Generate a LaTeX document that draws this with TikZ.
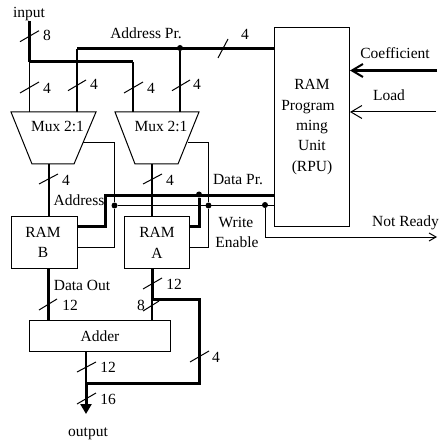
\documentclass[tikz,border=0pt]{standalone}
\usepackage{fontspec}
\setmainfont{Liberation Serif}
\usetikzlibrary{arrows.meta}
\tikzset{
  boxnode/.style={draw=black,line width=1pt,inner sep=0pt,align=center},
  muxshape/.style={draw=black,line width=1pt,line join=miter},
  txt/.style={inner sep=0pt,align=center,text height=13pt,text depth=3pt},
  bus/.style={line width=3pt,line join=miter},
  mid/.style={line width=1.5pt},
  thin wire/.style={line width=1pt},
  slash/.style={line width=1pt},
  junction/.style={circle,fill=black,inner sep=0pt,minimum size=6pt},
  openhead/.style={-{Straight Barb[length=11pt,width=13pt,line width=#1]}},
  every node/.append style={font=\fontsize{15.5}{18}\selectfont}
}
\begin{document}
\begin{tikzpicture}[x=1pt,y=-1pt]
\useasboundingbox (0,0) rectangle (440,443);
% blocks
\draw[muxshape] (11,112) -- (96,112) -- (74,164) -- (32,164) -- cycle;
\draw[muxshape] (115,112) -- (199,112) -- (178,164) -- (135,164) -- cycle;
\node[boxnode,minimum width=66pt,minimum height=52pt] (ramB) at (44,242) {};
\node[boxnode,minimum width=65pt,minimum height=52pt] (ramA) at (156.5,242) {};
\node[boxnode,minimum width=141pt,minimum height=31pt] (adder) at (100,336) {};
\node[boxnode,minimum width=75pt,minimum height=198pt] (rpu) at (311.5,127) {};
% free ends and bends
\coordinate (inTop) at (29.5,21);
\coordinate (inSplit) at (29.5,62);
\coordinate (inBend) at (133,62);
\coordinate (muxLa) at (29.5,112);
\coordinate (muxLb) at (77,112);
\coordinate (muxRa) at (133,112);
\coordinate (muxRb) at (180,112);
\coordinate (addrBend) at (77,49);
\coordinate (addrEnd) at (274,49);
\coordinate (muxLout) at (49,164);
\coordinate (muxRout) at (152,164);
\coordinate (ramBin) at (49,216);
\coordinate (ramAin) at (152,216);
\coordinate (dataStart) at (105,195.5);
\coordinate (dataEnd) at (274,195.5);
\coordinate (ramBd) at (77,226.5);
\coordinate (ramAd) at (189,226.5);
\coordinate (ramBw) at (77,247);
\coordinate (ramAw) at (189,247);
\coordinate (muxLs) at (83,143);
\coordinate (muxRs) at (188,143);
\coordinate (weEnd) at (274,205.5);
\coordinate (coefIn) at (437,70.5);
\coordinate (coefTip) at (350,70.5);
\coordinate (loadIn) at (436,112);
\coordinate (loadTip) at (350,112);
\coordinate (nrEnd) at (437,237);
\coordinate (ramBo) at (48.5,268);
\coordinate (addB) at (48.5,320.5);
\coordinate (ramAo) at (152,268);
\coordinate (fbTop) at (152,299);
\coordinate (addA) at (152,320.5);
\coordinate (addO) at (86,351);
\coordinate (sumPt) at (86,383);
\coordinate (outTip) at (86,414);
% junctions
\node[junction] (jAddr) at (180,48) {};
\node[junction] (jDataA) at (199,194.5) {};
\node[junction] (jWeB) at (114.5,205.5) {};
\node[junction] (jWeA) at (208.5,205.5) {};
\node[junction] (jNr) at (265,205) {};
% wires
\draw[bus] (inTop) -- (inSplit);
\draw[bus] (inSplit) -- (inBend);
\draw[mid] (inSplit) -- (muxLa);
\draw[mid] (inBend) -- (muxRa);
\draw[bus] (addrEnd) -- (addrBend);
\draw[mid] (addrBend) -- (muxLb);
\draw[mid] (jAddr) -- (muxRb);
\draw[mid] (muxLout) -- (ramBin);
\draw[mid] (muxRout) -- (ramAin);
\draw[bus] (dataEnd) -- (dataStart) |- (ramBd);
\draw[bus] (jDataA) |- (ramAd);
\draw[thin wire] (jWeB) -- (weEnd);
\draw[thin wire] (muxLs) -| (jWeB) |- (ramBw);
\draw[thin wire] (muxRs) -| (jWeA) |- (ramAw);
\draw[thin wire,-{Straight Barb[length=7pt,width=8pt]}] (jNr) |- (nrEnd);
\draw[bus,openhead=2pt] (coefIn) -- (coefTip);
\draw[thin wire,openhead=1pt] (loadIn) -- (loadTip);
\draw[bus] (ramBo) -- (addB);
\draw[bus] (ramAo) -- (fbTop);
\draw[mid] (fbTop) -- (addA);
\draw[bus] (fbTop) -| (199,383) -- (sumPt);
\draw[mid] (addO) -- (sumPt);
\draw[bus,-{Triangle[length=10pt,width=11pt]}] (sumPt) -- (outTip);
% bus width slashes
\draw[slash] (20,41.7) -- (39,30.7);
\draw[slash] (20,93) -- (39,82);
\draw[slash] (68,90.7) -- (86,80);
\draw[slash] (124,93) -- (143,82);
\draw[slash] (172,90.7) -- (190,80);
\draw[slash] (218,58) -- (228,39);
\draw[slash] (39,184) -- (58,174);
\draw[slash] (143,184) -- (162,174);
\draw[slash] (39,310) -- (57,299);
\draw[slash] (143,289) -- (162,278);
\draw[slash] (143,311) -- (159,301);
\draw[slash] (190,362) -- (209,351);
\draw[slash] (77,372) -- (96,362);
\draw[slash] (77,404) -- (96,393);
% labels
\node[txt] (lInput) at (29,13) {input};
\node[txt] (l8a) at (47,36) {8};
\node[txt] (lAddrPr) at (146,34) {Address Pr.};
\node[txt] (l4top) at (245,35) {4};
\node[txt] (l4a) at (47,89) {4};
\node[txt] (l4b) at (94,85) {4};
\node[txt] (l4c) at (151,89) {4};
\node[txt] (l4d) at (197,85) {4};
\node[txt] (lMuxL) at (57.5,127) {Mux 2:1};
\node[txt] (lMuxR) at (161,127) {Mux 2:1};
\node[txt] (l4e) at (66,181) {4};
\node[txt] (l4f) at (170,181) {4};
\node[txt] (lDataPr) at (238,180) {Data Pr.};
\node[txt] (lAddress) at (79,201) {Address};
\node[txt] (lRamB1) at (43,232) {RAM};
\node[txt] (lRamB2) at (43,252) {B};
\node[txt] (lRamA1) at (157,232) {RAM};
\node[txt] (lRamA2) at (157,253) {A};
\node[txt] (lWrite) at (236,222) {Write};
\node[txt] (lEnable) at (237,242) {Enable};
\node[txt] (lRpu1) at (312,85) {RAM};
\node[txt] (lRpu2) at (308,106) {Program};
\node[txt] (lRpu3) at (312,126) {ming};
\node[txt] (lRpu4) at (312,146) {Unit};
\node[txt] (lRpu5) at (312,167) {(RPU)};
\node[txt] (lCoef) at (395,54) {Coefficient};
\node[txt] (lLoad) at (389,96) {Load};
\node[txt] (lNotReady) at (405.5,221) {Not Ready};
\node[txt] (lDataOut) at (82,285) {Data Out};
\node[txt] (l12a) at (70,305) {12};
\node[txt] (l12b) at (174,284) {12};
\node[txt] (l8b) at (141,305) {8};
\node[txt] (lAdder) at (100,336) {Adder};
\node[txt] (l4g) at (216,357) {4};
\node[txt] (l12c) at (108,367) {12};
\node[txt] (l16) at (108,399) {16};
\node[txt] (lOutput) at (88,431) {output};
\end{tikzpicture}
\end{document}
